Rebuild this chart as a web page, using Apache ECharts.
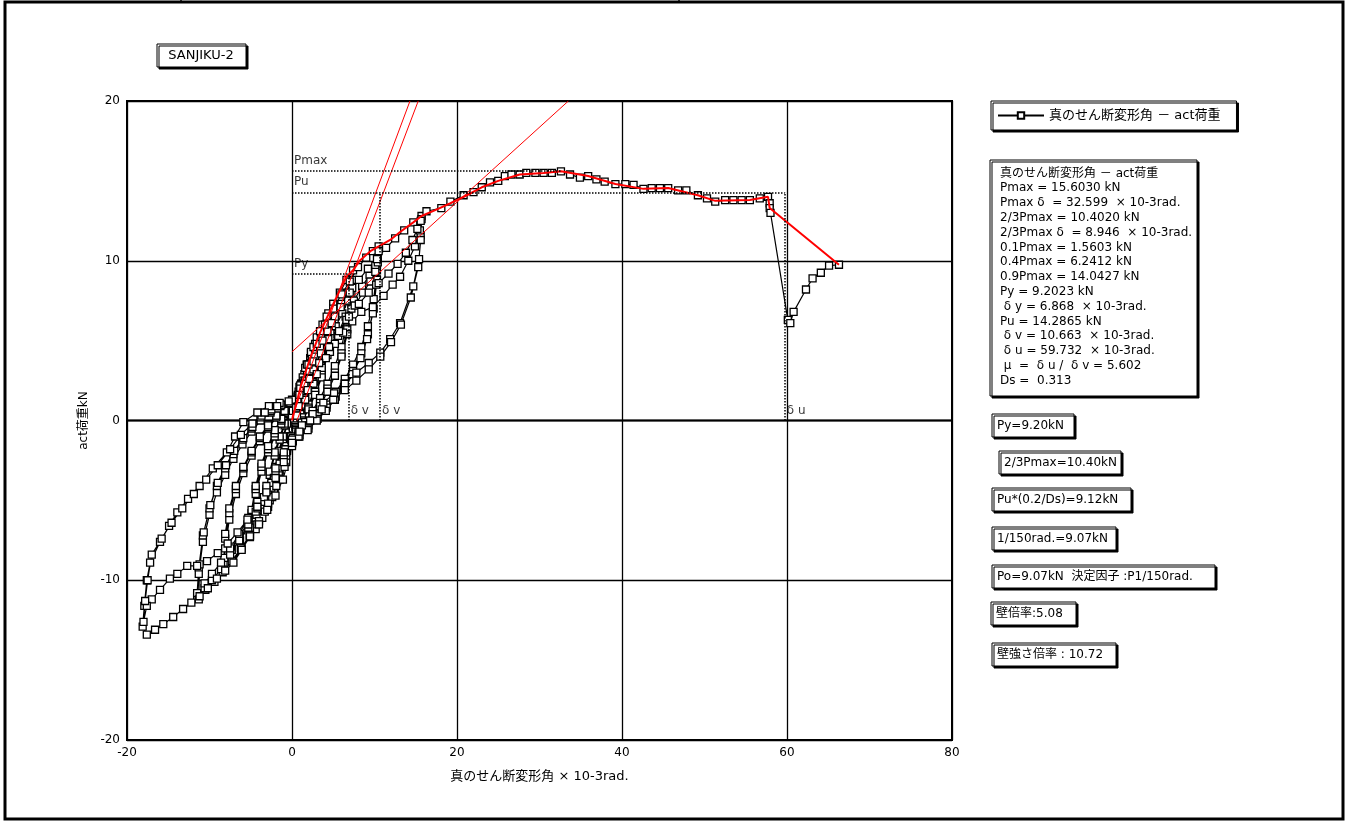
<!DOCTYPE html>
<html>
<head>
<meta charset="utf-8">
<script src="https://cdn.jsdelivr.net/npm/echarts@6.0.0/dist/echarts.min.js"></script>
<style>
  html, body { margin: 0; padding: 0; background: #fff; }
  #chart { width: 1348px; height: 825px; }
</style>
</head>
<body>
<div id="chart"></div>
<script>
// 履歴ループ（真のせん断変形角 x10-3rad, act荷重 kN）
var loop1a = [[0,0],[0.3,0.8],[0.7,1.6],[1.1,2.3],[1.5,2.9],[1.9,3.5],[2.2,3.9],[2.0,3.0],[1.6,2.0],[1.1,1.1],[0.6,0.3],[0.1,-0.4],[-0.3,-1.1],[-0.7,-1.8],[-1.1,-2.5],[-1.5,-3.1],[-1.9,-3.6],[-2.2,-4.0],[-2.0,-3.1],[-1.6,-2.1],[-1.1,-1.2],[-0.6,-0.3],[-0.1,0.3]];
var loop1b = [[0.3,0.6],[0.7,1.3],[1.1,2.0],[1.5,2.6],[1.9,3.2],[2.2,3.6],[2.0,2.8],[1.6,1.8],[1.1,0.9],[0.6,0.1],[0.1,-0.5],[-0.3,-1.0],[-0.7,-1.6],[-1.1,-2.3],[-1.5,-2.9],[-1.9,-3.4],[-2.2,-3.8],[-2.0,-2.9],[-1.6,-1.9],[-1.1,-1.0],[-0.6,-0.2],[-0.1,0.3]];
var loop2a = [[0.3,0.8],[0.8,1.8],[1.3,2.7],[1.8,3.5],[2.3,4.2],[2.8,4.8],[3.4,5.5],[3.2,4.6],[2.8,3.4],[2.2,2.2],[1.6,1.2],[1.0,0.4],[0.4,-0.3],[-0.1,-1.0],[-0.6,-1.9],[-1.1,-2.8],[-1.6,-3.6],[-2.1,-4.3],[-2.7,-5.0],[-3.3,-5.6],[-3.1,-4.6],[-2.7,-3.4],[-2.1,-2.2],[-1.5,-1.2],[-0.9,-0.3],[-0.3,0.4]];
var loop2b = [[0.2,0.7],[0.7,1.5],[1.2,2.3],[1.8,3.1],[2.4,3.9],[2.9,4.5],[3.4,5.1],[3.2,4.3],[2.8,3.2],[2.2,2.0],[1.6,1.0],[1.0,0.2],[0.4,-0.4],[-0.1,-1.0],[-0.6,-1.8],[-1.2,-2.6],[-1.8,-3.5],[-2.4,-4.3],[-2.9,-4.8],[-3.3,-5.2],[-3.1,-4.3],[-2.7,-3.2],[-2.1,-2.0],[-1.5,-1.0],[-0.9,-0.2],[-0.3,0.5]];
var loop3a = [[0.3,0.9],[0.9,2.1],[1.6,3.3],[2.3,4.3],[3.0,5.2],[3.7,6.0],[4.4,6.7],[5.0,7.3],[4.8,6.1],[4.3,4.6],[3.6,3.2],[2.8,2.0],[2.0,1.0],[1.2,0.2],[0.5,-0.5],[-0.1,-1.2],[-0.8,-2.4],[-1.5,-3.5],[-2.2,-4.5],[-2.9,-5.4],[-3.6,-6.1],[-4.4,-6.8],[-5.1,-7.3],[-4.9,-6.1],[-4.4,-4.6],[-3.7,-3.2],[-2.9,-2.0],[-2.1,-1.0],[-1.3,-0.2],[-0.5,0.5]];
var loop3b = [[0.1,0.6],[0.7,1.5],[1.4,2.5],[2.1,3.4],[2.8,4.3],[3.5,5.2],[4.2,6.0],[5.0,6.8],[4.8,5.8],[4.3,4.3],[3.6,2.9],[2.8,1.8],[2.0,0.8],[1.2,0.0],[0.5,-0.6],[-0.1,-1.1],[-0.8,-2.0],[-1.5,-2.9],[-2.2,-3.8],[-2.9,-4.7],[-3.7,-5.6],[-4.4,-6.3],[-5.1,-6.9],[-4.9,-5.8],[-4.4,-4.3],[-3.7,-2.9],[-2.9,-1.8],[-2.1,-0.8],[-1.3,0.0],[-0.5,0.6]];
var loop3c = [[0.1,0.5],[0.7,1.3],[1.4,2.2],[2.1,3.1],[2.8,4.0],[3.5,4.9],[4.2,5.8],[5.0,6.6],[4.8,5.6],[4.3,4.1],[3.6,2.7],[2.8,1.6],[2.0,0.7],[1.2,-0.1],[0.5,-0.7],[-0.1,-1.0],[-0.8,-1.8],[-1.5,-2.7],[-2.2,-3.6],[-2.9,-4.5],[-3.7,-5.4],[-4.4,-6.1],[-5.1,-6.7],[-4.9,-5.6],[-4.4,-4.1],[-3.7,-2.7],[-2.9,-1.6],[-2.1,-0.6],[-1.3,0.1],[-0.5,0.6]];
var loop4a = [[0.2,0.8],[1.0,2.2],[1.8,3.5],[2.6,4.6],[3.4,5.6],[4.2,6.5],[5.0,7.3],[5.8,8.0],[6.6,8.8],[7.4,9.4],[7.2,8.0],[6.7,6.2],[6.0,4.6],[5.2,3.4],[4.3,2.3],[3.4,1.4],[2.5,0.6],[1.6,-0.1],[0.8,-0.7],[0.1,-1.3],[-0.7,-2.6],[-1.5,-3.7],[-2.4,-4.8],[-3.3,-5.7],[-4.2,-6.5],[-5.1,-7.2],[-6.1,-8.0],[-7.2,-8.8],[-8.3,-9.4],[-8.1,-8.0],[-7.6,-6.2],[-6.8,-4.6],[-5.9,-3.3],[-4.9,-2.2],[-3.9,-1.3],[-2.9,-0.5],[-1.9,0.2],[-0.9,0.7]];
var loop4b = [[0.0,0.4],[0.8,1.4],[1.6,2.5],[2.5,3.6],[3.4,4.6],[4.3,5.6],[5.2,6.5],[6.0,7.3],[6.8,8.0],[7.4,8.8],[7.2,7.3],[6.7,5.7],[6.0,4.2],[5.2,3.0],[4.3,2.0],[3.4,1.1],[2.5,0.4],[1.6,-0.3],[0.8,-0.8],[0.1,-1.2],[-0.7,-2.2],[-1.6,-3.2],[-2.5,-4.2],[-3.4,-5.1],[-4.3,-5.9],[-5.3,-6.7],[-6.3,-7.5],[-7.3,-8.1],[-8.3,-8.9],[-8.1,-7.4],[-7.6,-5.8],[-6.8,-4.3],[-5.9,-3.0],[-4.9,-2.0],[-3.9,-1.1],[-2.9,-0.4],[-1.9,0.3],[-0.9,0.7]];
var loop4c = [[0.0,0.3],[0.8,1.2],[1.7,2.2],[2.6,3.2],[3.5,4.2],[4.4,5.1],[5.3,5.9],[6.1,6.7],[6.8,7.5],[7.3,8.3],[7.2,7.0],[6.7,5.4],[6.0,4.0],[5.2,2.8],[4.3,1.8],[3.4,0.9],[2.5,0.2],[1.6,-0.4],[0.8,-0.9],[0.1,-1.1],[-0.7,-2.0],[-1.6,-3.0],[-2.5,-3.9],[-3.4,-4.8],[-4.4,-5.7],[-5.4,-6.5],[-6.4,-7.2],[-7.4,-7.9],[-8.2,-8.6],[-8.1,-7.1],[-7.6,-5.5],[-6.8,-4.1],[-5.9,-2.9],[-4.9,-1.9],[-3.9,-1.0],[-2.9,-0.3],[-1.9,0.3],[-0.9,0.6]];
var loop5a = [[0.1,0.6],[1.0,2.0],[2.0,3.5],[3.0,4.8],[4.0,6.0],[5.0,7.0],[6.0,7.9],[7.0,8.7],[8.0,9.6],[9.0,10.2],[9.8,10.6],[10.5,10.9],[10.3,9.4],[9.9,7.6],[9.2,5.9],[8.4,4.6],[7.4,3.5],[6.4,2.6],[5.3,1.8],[4.2,1.0],[3.1,0.3],[2.0,-0.3],[0.9,-0.9],[0.0,-1.5],[-0.9,-2.9],[-1.9,-4.1],[-2.9,-5.2],[-4.0,-6.3],[-5.1,-7.2],[-6.2,-8.0],[-7.3,-8.8],[-8.4,-9.5],[-9.4,-10.1],[-10.5,-10.6],[-11.5,-11.0],[-11.3,-9.6],[-10.8,-7.6],[-10.0,-5.9],[-9.1,-4.5],[-8.1,-3.4],[-7.1,-2.4],[-6.0,-1.5],[-4.9,-0.7],[-3.8,0.0],[-2.6,0.5],[-1.4,0.9],[-0.3,1.1]];
var loop5b = [[0.5,0.4],[1.5,1.4],[2.5,2.4],[3.5,3.4],[4.5,4.4],[5.5,5.4],[6.5,6.5],[7.5,7.5],[8.5,8.4],[9.4,9.1],[10.1,9.7],[10.4,10.2],[10.5,10.6],[10.3,8.8],[9.9,7.0],[9.2,5.4],[8.4,4.2],[7.4,3.1],[6.4,2.3],[5.3,1.5],[4.2,0.8],[3.1,0.1],[2.0,-0.5],[0.9,-1.0],[0.0,-1.3],[-1.0,-2.2],[-2.0,-3.3],[-3.1,-4.4],[-4.2,-5.5],[-5.3,-6.5],[-6.4,-7.5],[-7.5,-8.4],[-8.6,-9.3],[-9.7,-10.0],[-10.6,-10.5],[-11.5,-10.8],[-11.3,-9.2],[-10.8,-7.2],[-10.0,-5.5],[-9.1,-4.1],[-8.1,-3.0],[-7.1,-2.1],[-6.0,-1.2],[-4.9,-0.5],[-3.8,0.2],[-2.6,0.6],[-1.4,1.0],[-0.3,1.1]];
var loop5c = [[0.6,0.3],[1.6,1.3],[2.6,2.3],[3.6,3.3],[4.6,4.3],[5.6,5.3],[6.6,6.3],[7.6,7.2],[8.6,8.0],[9.5,8.7],[10.1,9.3],[10.4,9.9],[10.2,8.5],[9.8,6.7],[9.1,5.1],[8.3,3.9],[7.3,2.9],[6.3,2.1],[5.2,1.3],[4.1,0.6],[3.0,0.0],[1.9,-0.6],[0.8,-1.0],[0.0,-1.2],[-1.0,-2.0],[-2.0,-3.0],[-3.1,-4.1],[-4.2,-5.1],[-5.3,-6.1],[-6.4,-7.1],[-7.5,-8.0],[-8.6,-8.9],[-9.7,-9.6],[-10.6,-10.2],[-11.3,-11.2],[-11.2,-9.0],[-10.7,-7.0],[-9.9,-5.3],[-9.0,-3.9],[-8.0,-2.8],[-7.0,-1.9],[-5.9,-1.1],[-4.8,-0.4],[-3.7,0.3],[-2.5,0.7],[-1.3,1.0],[-0.2,1.1]];
var loop6a = [[0.5,0.8],[1.5,2.3],[2.6,3.7],[3.7,5.0],[4.8,6.1],[5.9,7.1],[7.0,8.0],[8.1,8.8],[9.2,9.5],[10.3,10.1],[11.4,10.8],[12.5,11.4],[13.6,11.9],[14.7,12.4],[15.7,12.8],[15.6,11.6],[15.4,10.1],[14.7,8.4],[13.1,6.1],[11.9,5.1],[10.7,4.25],[9.3,3.6],[7.8,3.0],[6.4,2.3],[5.1,1.7],[3.8,1.1],[2.5,0.4],[1.2,-0.3],[0.0,-1.6],[-1.1,-3.7],[-2.0,-4.7],[-3.0,-5.6],[-4.0,-6.5],[-5.1,-7.25],[-6.1,-8.1],[-7.1,-8.9],[-8.1,-9.4],[-9.1,-9.9],[-10.2,-10.5],[-11.2,-11.0],[-12.2,-11.4],[-13.2,-11.8],[-14.4,-12.3],[-15.6,-12.75],[-16.6,-13.1],[-17.6,-13.4],[-18.1,-12.9],[-17.9,-11.6],[-17.6,-10.0],[-17.2,-8.9],[-16.0,-7.6],[-14.9,-6.6],[-13.9,-5.75],[-12.6,-4.9],[-11.2,-4.1],[-9.6,-3.0],[-7.9,-2.0],[-6.9,-1.0],[-5.9,-0.1],[-4.2,0.5],[-2.8,0.9],[-1.5,1.1],[0,1.3]];
var loop6b = [[0.8,0.9],[1.9,1.9],[3.0,2.9],[4.1,3.9],[5.2,4.8],[6.2,5.5],[7.3,6.2],[8.4,6.8],[9.8,7.1],[11.1,7.8],[12.2,8.5],[13.1,9.0],[14.1,10.0],[14.9,10.9],[15.5,11.9],[15.7,12.6],[15.6,11.3],[15.3,9.6],[14.4,7.7],[13.2,6.0],[12.0,4.9],[10.7,4.0],[9.3,3.2],[7.8,2.5],[6.4,1.9],[5.0,1.3],[3.6,0.7],[2.2,0.0],[0.9,-0.7],[0.0,-1.4],[-1.0,-2.6],[-2.0,-3.6],[-3.1,-4.5],[-4.2,-5.4],[-5.4,-6.2],[-6.6,-7.0],[-7.8,-7.7],[-9.0,-8.3],[-10.3,-8.8],[-11.5,-9.1],[-12.7,-9.1],[-13.9,-9.6],[-14.8,-9.9],[-16.0,-10.6],[-17.0,-11.2],[-17.6,-11.6],[-18.0,-12.6],[-17.8,-11.3],[-17.5,-10.0],[-17.0,-8.4],[-15.8,-7.4],[-14.6,-6.4],[-13.3,-5.5],[-11.9,-4.6],[-10.4,-3.7],[-9.0,-2.8],[-7.5,-1.8],[-6.2,-0.9],[-4.8,-0.2],[-3.3,0.5],[-1.8,0.9],[-0.4,1.2]];
var pushover = [[0.9,1.6],[2.1,2.6],[3.3,3.6],[4.5,4.6],[5.7,5.6],[6.9,6.5],[8.1,7.3],[9.3,8.0],[10.5,8.6],[11.7,9.2],[12.8,9.8],[13.8,10.5],[14.6,11.3],[15.2,12.0],[15.6,12.5],[16.3,13.1],[18.1,13.3],[19.2,13.7],[20.8,14.1],[22.0,14.3],[23.0,14.6],[24.0,14.9],[25.0,15.0],[25.8,15.3],[26.6,15.4],[27.6,15.4],[28.4,15.5],[29.5,15.5],[30.5,15.5],[31.5,15.5],[32.6,15.6],[33.7,15.4],[34.9,15.2],[35.9,15.3],[36.9,15.1],[37.9,14.95],[39.2,14.8],[40.4,14.8],[41.4,14.75],[42.6,14.5],[43.6,14.55],[44.6,14.55],[45.6,14.55],[46.8,14.4],[47.8,14.4],[49.2,14.1],[50.3,13.9],[51.3,13.7],[52.5,13.8],[53.5,13.8],[54.5,13.8],[55.5,13.8],[56.7,13.9],[57.7,14.0],[57.9,13.6],[57.9,13.3],[58.0,13.0],[60.1,6.3],[60.4,6.1],[60.8,6.8],[62.3,8.2],[63.1,8.9],[64.1,9.25],[65.1,9.7],[66.3,9.75]];

// 包絡線と評価用の直線（赤）
var envelope = [[0,0],[1.1,2.2],[2.2,3.9],[3.4,5.5],[5.0,7.3],[6.6,9.0],[7.4,9.4],[8.2,10.0],[9.5,10.6],[10.5,10.9],[11.9,11.3],[13.1,11.8],[14.7,12.4],[15.7,12.8],[17.5,13.2],[19.2,13.6],[21.2,14.1],[23.0,14.6],[25.0,15.0],[27.6,15.4],[30.5,15.5],[32.6,15.6],[35.9,15.3],[39.2,14.8],[42.6,14.5],[45.6,14.55],[49.2,14.1],[51.3,13.75],[55.5,13.8],[57.7,14.0],[57.9,13.3],[66.3,9.75]];
var lineA = [[0,0.2],[14.3,20]];
var lineB = [[0.6,0],[15.3,20]];
var lineC = [[0,4.3],[33.5,20]];

// 特性値
var Pmax = 15.603, PmaxD = 32.599;
var Pu = 14.2865, Py = 9.2023;
var dy = 6.868, dv = 10.663, du = 59.732;
var markLabels = [[0, Pmax, 'Pmax'], [0, Pu, 'Pu'], [0, Py, 'Py'], [dy, 0, 'δ v'], [dv, 0, 'δ v'], [du, 0, 'δ u']];

var seriesName = '真のせん断変形角 － act荷重';
var infoLines = [
  '真のせん断変形角 － act荷重',
  'Pmax = 15.6030 kN',
  'Pmax δ  = 32.599  × 10-3rad.',
  '2/3Pmax = 10.4020 kN',
  '2/3Pmax δ  = 8.946  × 10-3rad.',
  '0.1Pmax = 1.5603 kN',
  '0.4Pmax = 6.2412 kN',
  '0.9Pmax = 14.0427 kN',
  'Py = 9.2023 kN',
  ' δ y = 6.868  × 10-3rad.',
  'Pu = 14.2865 kN',
  ' δ v = 10.663  × 10-3rad.',
  ' δ u = 59.732  × 10-3rad.',
  ' μ  =  δ u /  δ v = 5.602',
  'Ds =  0.313'
];
var resultBoxes = [
  { text: 'Py=9.20kN', x: 992, y: 414, w: 82 },
  { text: '2/3Pmax=10.40kN', x: 999, y: 451, w: 122 },
  { text: 'Pu*(0.2/Ds)=9.12kN', x: 992, y: 488, w: 139 },
  { text: '1/150rad.=9.07kN', x: 992, y: 527, w: 124 },
  { text: 'Po=9.07kN  決定因子 :P1/150rad.', x: 992, y: 565, w: 223 },
  { text: '壁倍率:5.08', x: 991, y: 602, w: 85 },
  { text: '壁強さ倍率 : 10.72', x: 992, y: 643, w: 124 }
];

var FONT = "'DejaVu Sans', 'Noto Sans CJK JP', sans-serif";
var hysteresis = [].concat(loop1a, loop1b, loop2a, loop2b, loop3a, loop3b, loop3c,
  loop4a, loop4b, loop4c, loop5a, loop5b, loop5c, loop6a, loop6b, pushover);

var myChart = echarts.init(document.getElementById('chart'));

var shadowBox = { fill: '#fff', stroke: '#000', lineWidth: 1, shadowColor: '#000', shadowOffsetX: 2, shadowOffsetY: 2, shadowBlur: 0 };

var graphics = [
  // 外枠
  { type: 'rect', shape: { x: 5, y: 2, width: 1338, height: 817 }, style: { fill: 'none', stroke: '#000', lineWidth: 3 }, z: 100 },
  { type: 'line', shape: { x1: 181, y1: 0, x2: 181, y2: 3 }, style: { stroke: '#000', lineWidth: 1.5 } },
  { type: 'line', shape: { x1: 679, y1: 0, x2: 679, y2: 3 }, style: { stroke: '#000', lineWidth: 1.5 } },
  // タイトル
  { type: 'rect', shape: { x: 157, y: 44, width: 89, height: 23 }, style: shadowBox },
  { type: 'text', x: 201, y: 56, style: { text: 'SANJIKU-2', font: '13px ' + FONT, fill: '#000', align: 'center', verticalAlign: 'middle' } },
  // 特性値ボックス
  { type: 'rect', shape: { x: 990, y: 160, width: 207, height: 236 }, style: shadowBox },
  { type: 'text', x: 1000, y: 166, style: { text: infoLines.join('\n'), font: '12px ' + FONT, lineHeight: 14.8, fill: '#000' } }
];
resultBoxes.forEach(function (b) {
  graphics.push({ type: 'rect', shape: { x: b.x, y: b.y, width: b.w, height: 23 }, style: shadowBox });
  graphics.push({ type: 'text', x: b.x + 5, y: b.y + 11.5, style: { text: b.text, font: '12px ' + FONT, fill: '#000', verticalAlign: 'middle' } });
});

var option = {
  animation: false,
  backgroundColor: '#fff',
  textStyle: { fontFamily: FONT },
  grid: { left: 127, right: 396, top: 101, bottom: 85, show: true, borderColor: '#000', borderWidth: 2 },
  legend: {
    data: [seriesName],
    left: 991, top: 101,
    orient: 'vertical',
    backgroundColor: '#fff',
    borderColor: '#000', borderWidth: 1,
    shadowColor: '#000', shadowOffsetX: 2, shadowOffsetY: 2, shadowBlur: 0,
    padding: [8, 16, 8, 6],
    itemWidth: 46, itemHeight: 8, itemGap: 0,
    textStyle: { fontSize: 13, color: '#000' }
  },
  xAxis: {
    type: 'value', min: -20, max: 80, interval: 20,
    name: '真のせん断変形角 × 10-3rad.', nameLocation: 'middle', nameGap: 30,
    nameTextStyle: { fontSize: 13, color: '#000', fontFamily: FONT },
    axisLine: { show: true, onZero: false, lineStyle: { color: '#000', width: 2 } },
    axisTick: { show: false },
    axisLabel: { color: '#000', fontSize: 12, margin: 7 },
    splitLine: { show: true, lineStyle: { color: '#000', width: 1.3 } }
  },
  yAxis: {
    type: 'value', min: -20, max: 20, interval: 10,
    name: 'act荷重kN', nameLocation: 'middle', nameGap: 34, nameRotate: 90,
    nameTextStyle: { fontSize: 12, color: '#000', fontFamily: FONT },
    axisLine: { show: true, onZero: false, lineStyle: { color: '#000', width: 2 } },
    axisTick: { show: false },
    axisLabel: { color: '#000', fontSize: 12, margin: 7 },
    splitLine: { show: true, lineStyle: { color: '#000', width: 1.3 } }
  },
  graphic: graphics,
  series: [
    {
      name: seriesName, type: 'line', data: hysteresis, z: 3,
      symbol: 'rect', symbolSize: 7, showAllSymbol: true,
      itemStyle: { color: '#fff', borderColor: '#000', borderWidth: 1.3 },
      lineStyle: { color: '#000', width: 1.2 },
      emphasis: { disabled: true },
      markLine: {
        silent: true, symbol: 'none', label: { show: false },
        lineStyle: { color: '#000', width: 1.5, type: 'dotted' },
        data: [
          [{ coord: [0, Pmax] }, { coord: [PmaxD, Pmax] }],
          [{ coord: [0, Pu] }, { coord: [du, Pu] }],
          [{ coord: [0, Py] }, { coord: [dy, Py] }],
          [{ coord: [dy, 0] }, { coord: [dy, Py] }],
          [{ coord: [dv, 0] }, { coord: [dv, Pu] }],
          [{ coord: [du, 0] }, { coord: [du, Pu] }]
        ]
      }
    },
    {
      name: 'zero', type: 'line', data: [[-20, 0], [80, 0]], symbol: 'none', z: 1,
      lineStyle: { color: '#000', width: 2 }, silent: true
    },
    { name: 'env', type: 'line', data: envelope, symbol: 'none', z: 4, lineStyle: { color: '#ff0000', width: 2 }, silent: true },
    { name: 'la', type: 'line', data: lineA, symbol: 'none', z: 4, lineStyle: { color: '#ff0000', width: 1 }, silent: true },
    { name: 'lb', type: 'line', data: lineB, symbol: 'none', z: 4, lineStyle: { color: '#ff0000', width: 1 }, silent: true },
    { name: 'lc', type: 'line', data: lineC, symbol: 'none', z: 4, lineStyle: { color: '#ff0000', width: 1 }, silent: true },
    {
      name: 'labels', type: 'scatter', data: markLabels, symbolSize: 0, z: 5, silent: true,
      label: {
        show: true, position: 'right', distance: 2, offset: [0, -10],
        formatter: function (p) { return p.data[2]; },
        color: '#000', fontSize: 12, fontFamily: FONT
      }
    }
  ]
};
option && myChart.setOption(option);
</script>
</body>
</html>
